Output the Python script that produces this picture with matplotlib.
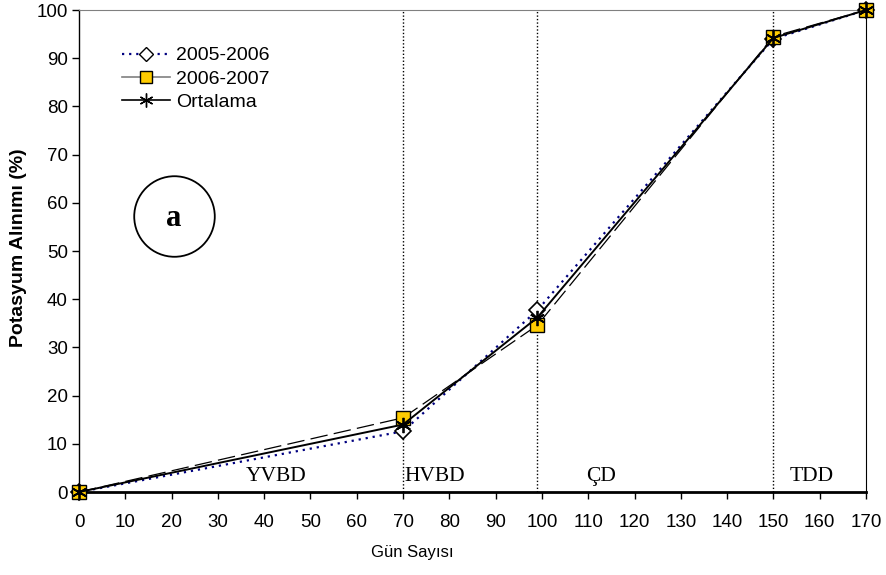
import matplotlib.pyplot as plt
from matplotlib.lines import Line2D

# Potassium uptake (%) over the growing season
days = [0, 70, 99, 150, 170]
uptake_2005_2006 = [0, 12.6, 37.7, 94.0, 100]
uptake_2006_2007 = [0, 15.4, 34.6, 94.5, 100]
uptake_mean = [0, 14.0, 36.2, 94.2, 100]

stage_bounds = [70, 99, 150]
stage_names = ["YVBD", "HVBD", "ÇD", "TDD"]
stage_label_x = [42.5, 76.9, 112.7, 158.3]

x_ticks = list(range(0, 171, 10))
y_ticks = list(range(0, 101, 10))

plt.rcParams['font.family'] = ['Liberation Sans', 'DejaVu Sans']

fig = plt.figure(figsize=(8.86, 5.75), dpi=100)
ax = fig.add_axes([0.0892, 0.1443, 0.8882, 0.8383])

# growth stage boundaries
for xb in stage_bounds:
    ax.plot([xb, xb], [0, 100], color='black', linestyle=(0, (1, 1.5)), linewidth=1.0, zorder=1)

ax.plot(days, uptake_2005_2006, color='#000080', linestyle=(0, (1, 2.2)), linewidth=1.6,
        marker='D', markersize=8, markerfacecolor='white', markeredgecolor='black',
        markeredgewidth=1.2, clip_on=False, zorder=3)
ax.plot(days, uptake_2006_2007, color='black', linestyle=(0, (14, 5)), linewidth=0.9,
        marker='s', markersize=10, markerfacecolor='#FFCC00', markeredgecolor='black',
        markeredgewidth=1.0, clip_on=False, zorder=4)
ax.plot(days, uptake_mean, color='black', linestyle='-', linewidth=1.4,
        marker=(6, 2, 0), markersize=11, markeredgecolor='black', markeredgewidth=1.3,
        clip_on=False, zorder=5)

for name, lx in zip(stage_names, stage_label_x):
    ax.text(lx, 3.3, name, family='Liberation Serif', fontsize=15.5, ha='center', va='center')

# panel marker
ax.plot([20.5], [57.3], marker='o', markersize=58, markerfacecolor='none',
        markeredgecolor='black', markeredgewidth=1.3, linestyle='none')
ax.text(20.5, 56.8, "a", family='Liberation Serif', fontweight='bold', fontsize=22,
        ha='center', va='center')

handles = [
    Line2D([], [], color='#000080', linestyle=(0, (1, 2.2)), linewidth=1.6, marker='D',
           markersize=7, markerfacecolor='white', markeredgecolor='black'),
    Line2D([], [], color='#808080', linestyle='-', linewidth=1.2, marker='s',
           markersize=9, markerfacecolor='#FFCC00', markeredgecolor='black'),
    Line2D([], [], color='black', linestyle='-', linewidth=1.2, marker=(6, 2, 0),
           markersize=10, markeredgecolor='black'),
]
ax.legend(handles, ["2005-2006", "2006-2007", "Ortalama"], loc='upper left',
          bbox_to_anchor=(0.032, 0.96), frameon=False, fontsize=14, handlelength=2.5,
          handletextpad=0.3, labelspacing=0.3)

ax.set_xlim(0, 170)
ax.set_ylim(0, 100)
ax.set_xticks(x_ticks)
ax.set_yticks(y_ticks)
ax.tick_params(axis='both', direction='out', length=5, width=1, labelsize=13.5, colors='black')
ax.tick_params(axis='x', pad=11)
ax.tick_params(axis='y', pad=3)

ax.spines['top'].set_color('#808080')
for side in ['left', 'bottom', 'right']:
    ax.spines[side].set_color('black')
ax.spines['bottom'].set_linewidth(2)
ax.spines['left'].set_linewidth(1)

ax.set_xlabel("Gün Sayısı", fontsize=12)
ax.xaxis.set_label_coords(0.423, -0.11)
ax.set_ylabel("Potasyum Alınımı (%)", fontsize=14, fontweight='bold')
ax.yaxis.set_label_coords(-0.066, 0.506)

fig.savefig("out.png", dpi=100)
